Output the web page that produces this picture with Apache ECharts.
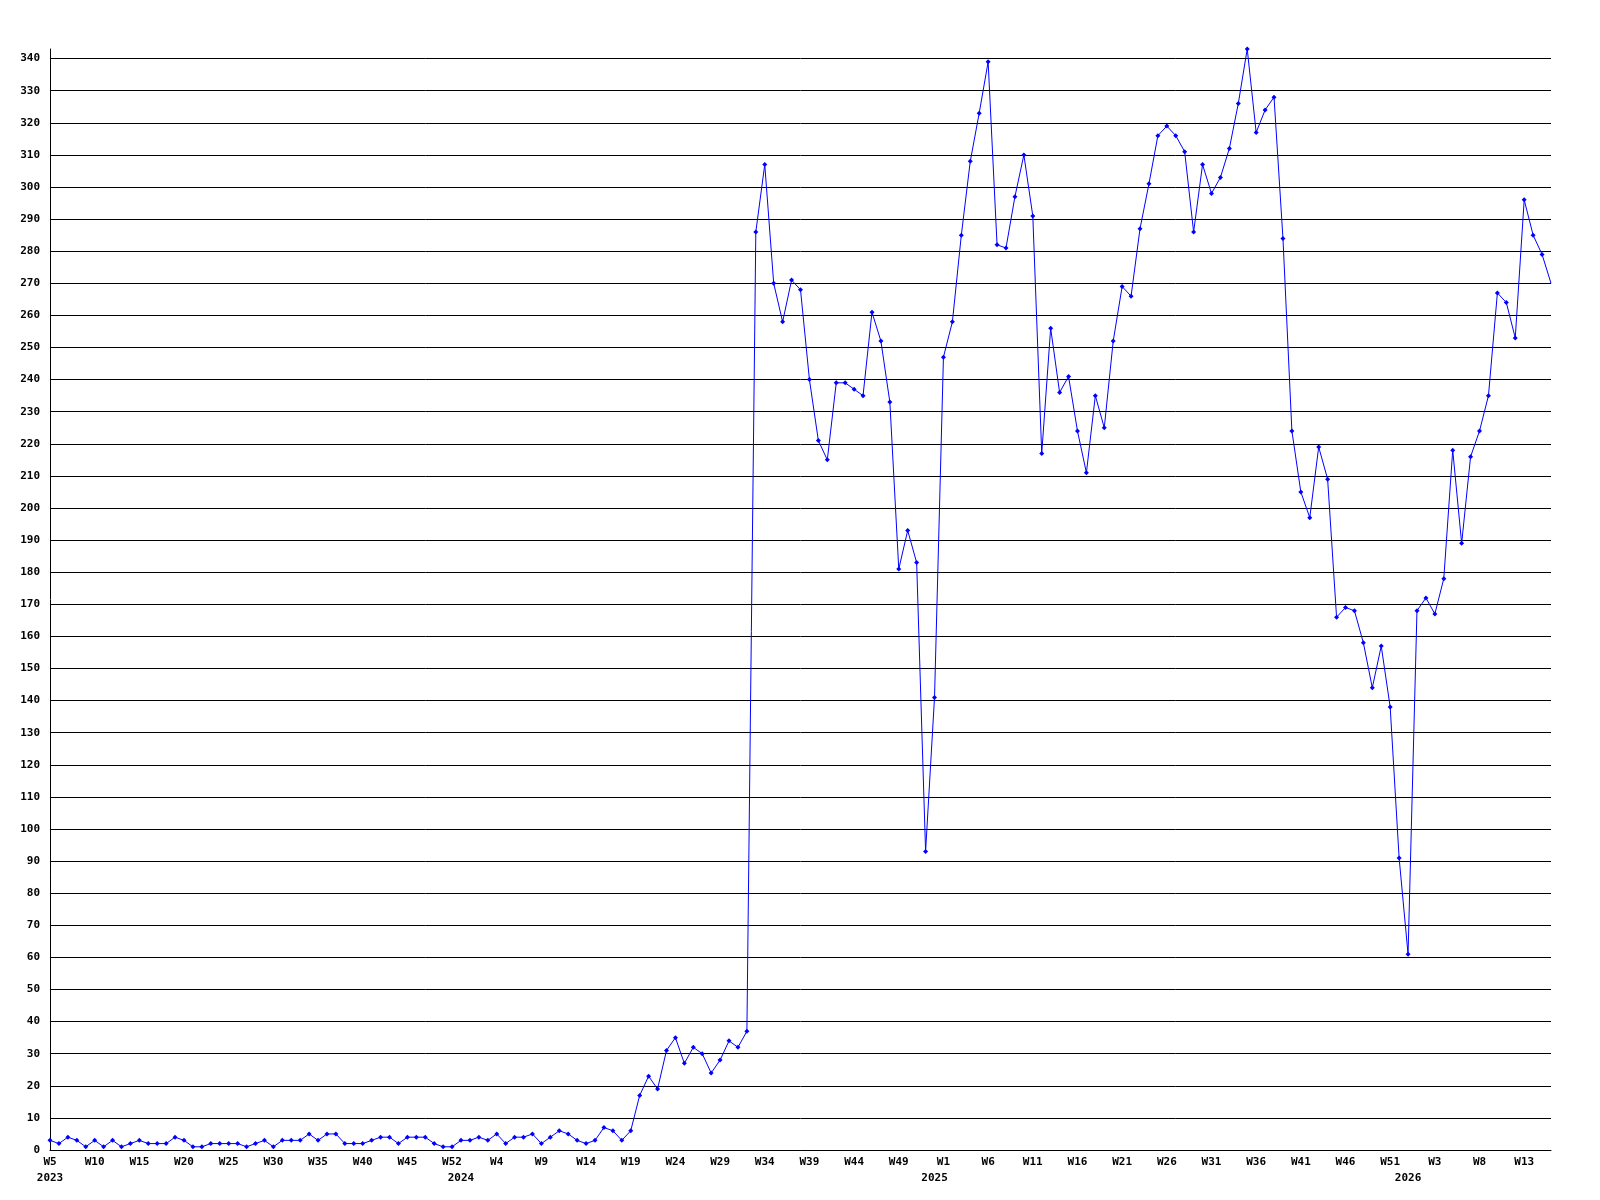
<!DOCTYPE html>
<html>
<head>
<meta charset="utf-8">
<script src="https://cdn.jsdelivr.net/npm/echarts@6/dist/echarts.min.js"></script>
<style>
html,body{margin:0;padding:0;background:#fff;}
#chart{width:1600px;height:1200px;}
</style>
</head>
<body>
<div id="chart"></div>
<script>
// Weekly values, 2023 W5 .. 2026 W13+
const values = [
  3,2,4,3,1,3,1,3,1,2,3,2,2,2,4,3,1,1,2,2,2,2,1,2,3,1,3,3,3,
  5,3,5,5,2,2,2,3,4,4,2,4,4,4,2,1,1,3,3,4,3,5,2,4,4,5,2,4,6,
  5,3,2,3,7,6,3,6,17,23,19,31,35,27,32,30,24,28,34,32,37,
  286,307,270,258,271,268,240,221,215,239,239,237,235,261,252,233,181,193,183,93,141,247,258,285,308,323,339,282,281,297,
  310,291,217,256,236,241,224,211,235,225,252,269,266,287,301,316,319,316,311,286,307,298,303,312,326,343,317,324,328,284,224,205,
  197,219,209,166,169,168,158,144,157,138,91,61,168,172,167,178,218,189,216,224,235,267,264,253,296,285,279,270
];
// Tick labels shown every 5th point
const weekTicks = ['W5','W10','W15','W20','W25','W30','W35','W40','W45','W52',
  'W4','W9','W14','W19','W24','W29','W34','W39','W44','W49',
  'W1','W6','W11','W16','W21','W26','W31','W36','W41','W46','W51',
  'W3','W8','W13'];
// Year labels and the point index they sit under
const yearNames = ['2023','2024','2025','2026'];
const yearIndex = [0, 46, 99, 152];

const categories = values.map((v, i) => String(i));
const seriesData = values.map((v, i) => i === values.length - 1 ? {value: v, symbol: 'none'} : v);

const font = '"DejaVu Sans Mono", monospace';
const chart = echarts.init(document.getElementById('chart'), null, {renderer: 'canvas'});
chart.setOption({
  animation: false,
  backgroundColor: '#ffffff',
  grid: {left: 50, right: 49, top: 49, bottom: 50, containLabel: false},
  xAxis: [{
    type: 'category',
    data: categories,
    boundaryGap: false,
    axisLine: {show: true, lineStyle: {color: '#000', width: 1}},
    axisTick: {show: false},
    splitLine: {show: false},
    axisLabel: {
      interval: 4,
      margin: 7,
      color: '#000',
      fontFamily: font,
      fontWeight: 'bold',
      fontSize: 11,
      formatter: (val, idx) => weekTicks[Math.round(idx / 5)] || ''
    }
  }, {
    type: 'category',
    data: categories,
    position: 'bottom',
    boundaryGap: false,
    offset: 16,
    axisLine: {show: false},
    axisTick: {show: false},
    splitLine: {show: false},
    axisLabel: {
      interval: (idx) => yearIndex.indexOf(idx) >= 0,
      margin: 7,
      color: '#000',
      fontFamily: font,
      fontWeight: 'bold',
      fontSize: 11,
      formatter: (val, idx) => {
        const k = yearIndex.indexOf(idx);
        return k >= 0 ? yearNames[k] : '';
      }
    }
  }],
  yAxis: {
    type: 'value',
    min: 0,
    max: 343,
    interval: 10,
    axisLine: {show: true, lineStyle: {color: '#000', width: 1}},
    axisTick: {show: false},
    splitLine: {show: true, showMaxLine: false, lineStyle: {color: '#000', width: 1}},
    axisLabel: {
      margin: 10,
      showMaxLabel: false,
      color: '#000',
      fontFamily: font,
      fontWeight: 'bold',
      fontSize: 11
    }
  },
  series: [{
    type: 'line',
    xAxisIndex: 0,
    data: seriesData,
    symbol: 'diamond',
    symbolSize: 5,
    showAllSymbol: true,
    lineStyle: {color: '#0000ff', width: 1},
    itemStyle: {color: '#0000ff'},
    emphasis: {disabled: true}
  }]
});
</script>
</body>
</html>
